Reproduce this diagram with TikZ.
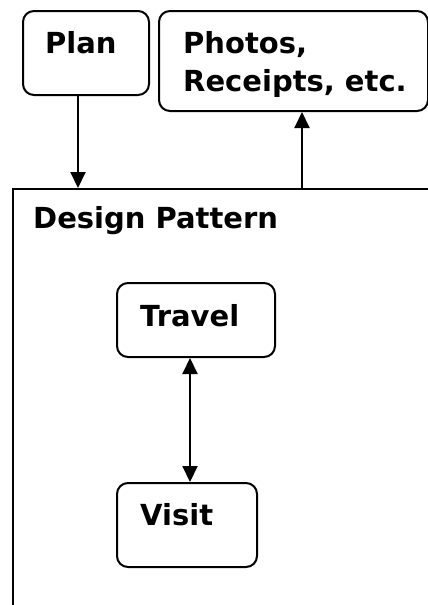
\documentclass[tikz,border=0pt]{standalone}
\usepackage{fontspec}
\setmainfont{DejaVu Sans}
\usetikzlibrary{arrows.meta}
\tikzset{
  box/.style={draw, line width=2pt, rounded corners=11pt, inner sep=0pt, anchor=north west},
  lbl/.style={anchor=base west, inner sep=0pt, font=\fontsize{29}{38}\selectfont\bfseries},
  tip/.tip={Triangle[length=16pt,width=15pt]},
  flow/.style={line width=2pt, -tip},
  twoway/.style={line width=2pt, tip-tip}
}
\begin{document}
\begin{tikzpicture}[x=1pt,y=-1pt]
\clip (0,0) rectangle (428,605);
\fill[white] (0,0) rectangle (428,605);

% outer container, running past the right and bottom edges
\node[draw, line width=2pt, inner sep=0pt, anchor=north west,
      minimum width=500pt, minimum height=500pt] (dp) at (12,188) {};
\node[lbl] (dptitle) at (33,228) {Design Pattern};

% top boxes
\node[box, minimum width=126pt, minimum height=84pt] (plan) at (22,10) {};
\node[lbl] (plantxt) at (45,53) {Plan};
\node[box, minimum width=269pt, minimum height=100pt] (photos) at (158,10) {};
\node[lbl] (photostxt1) at (183,53) {Photos,};
\node[lbl] (photostxt2) at (183,91) {Receipts, etc.};

% inner boxes
\node[box, minimum width=158pt, minimum height=74pt] (travel) at (116,282) {};
\node[lbl] (traveltxt) at (140,326) {Travel};
\node[box, minimum width=140pt, minimum height=84pt] (visit) at (116,482) {};
\node[lbl] (visittxt) at (140,525) {Visit};

% vertical lines the connectors run along
\coordinate (c1) at (78,0);
\coordinate (c2) at (302,0);
\coordinate (c3) at (190,0);

% connectors
\draw[flow] (c1 |- plan.south) -- (c1 |- dp.north);
\draw[flow] (c2 |- dp.north) -- (c2 |- photos.south);
\draw[twoway] (c3 |- travel.south) -- (c3 |- visit.north);
\end{tikzpicture}
\end{document}
